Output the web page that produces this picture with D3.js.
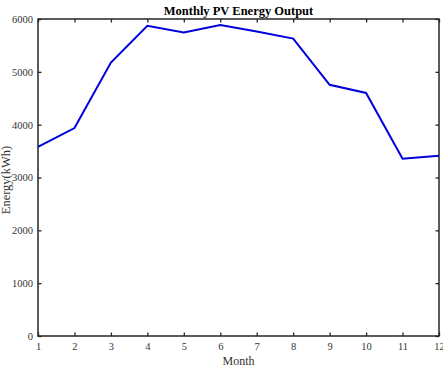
<!DOCTYPE html>
<html><head><meta charset="utf-8">
<script src="https://cdn.jsdelivr.net/npm/d3@7"></script>
<style>body{margin:0;background:#fff}svg{display:block}</style>
</head><body>
<script>
const months = [1,2,3,4,5,6,7,8,9,10,11,12];
const energy = [3580,3935,5175,5870,5745,5885,5765,5630,4755,4600,3355,3410];
const yTicks = [0,1000,2000,3000,4000,5000,6000];
const title = "Monthly PV Energy Output";
const xLabel = "Month";
const yLabel = "Energy(kWh)";

const W = 443, H = 371;
const m = {l:38, r:4, t:19, b:35};
const svg = d3.select("body").append("svg").attr("width",W).attr("height",H);
const x = d3.scaleLinear().domain([1,12]).range([m.l, W-m.r]);
const y = d3.scaleLinear().domain([0,6000]).range([H-m.b, m.t]);
const font = "'Liberation Serif','Times New Roman',serif";
const axCol = "#262626";

const g = svg.append("g").attr("font-family", font);

const tl = 3.5;
const xa = d3.axisBottom(x).tickValues(months).tickSize(-tl).tickPadding(7).tickFormat(d3.format("d"));
const ya = d3.axisLeft(y).tickValues(yTicks).tickSize(-tl).tickPadding(5).tickFormat(d3.format("d"));
const xt = d3.axisTop(x).tickValues(months).tickSize(-tl).tickFormat("");
const yr = d3.axisRight(y).tickValues(yTicks).tickSize(-tl).tickFormat("");

function style(sel){
  sel.select(".domain").remove();
  sel.selectAll("line").attr("stroke",axCol).attr("stroke-width",1.3);
  sel.selectAll("text").attr("fill","#333").attr("font-size",10.5).attr("font-family",font);
}
g.append("g").attr("transform",`translate(0,${H-m.b})`).call(xa).call(style);
g.append("g").attr("transform",`translate(${m.l},0)`).call(ya).call(style);
g.append("g").attr("transform",`translate(0,${m.t})`).call(xt).call(style);
g.append("g").attr("transform",`translate(${W-m.r},0)`).call(yr).call(style);

g.append("rect").attr("x",m.l).attr("y",m.t).attr("width",W-m.r-m.l).attr("height",H-m.b-m.t)
  .attr("fill","none").attr("stroke",axCol).attr("stroke-width",1.5);

const line = d3.line().x((d,i)=>x(months[i])).y(d=>y(d));
g.append("path").datum(energy).attr("d",line).attr("fill","none")
  .attr("stroke","#0000dd").attr("stroke-width",2).attr("stroke-linejoin","miter");

g.append("text").attr("x",(m.l+W-m.r)/2).attr("y",15).attr("text-anchor","middle")
  .attr("font-weight","bold").attr("font-size",12.5).attr("fill","#000").text(title);
g.append("text").attr("x",(m.l+W-m.r)/2).attr("y",365).attr("text-anchor","middle")
  .attr("font-size",12).attr("fill","#333").text(xLabel);
g.append("text").attr("transform",`translate(10,180) rotate(-90)`).attr("text-anchor","middle")
  .attr("font-size",12.5).attr("fill","#333").text(yLabel);
</script>
</body></html>
